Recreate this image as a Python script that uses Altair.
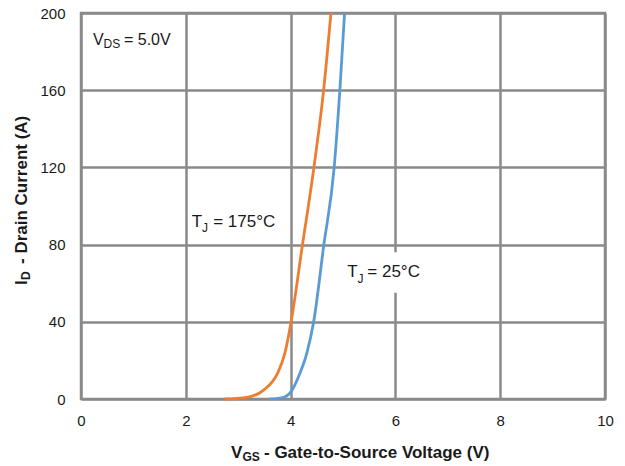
import altair as alt
import pandas as pd

# Transfer characteristics
vgs_175 = [2.74, 3.17, 3.49, 3.75, 3.89, 4.01, 4.22, 4.44, 4.63, 4.77]
id_175 = [0, 0.9, 4.7, 13.3, 23.6, 40, 78.7, 119, 160, 200]
vgs_25 = [3.60, 3.87, 3.99, 4.18, 4.31, 4.44, 4.63, 4.83, 4.94, 5.03]
id_25 = [0, 0.9, 3.1, 13.5, 23.8, 40, 79, 119.6, 160, 200]

x_ticks = [0, 2, 4, 6, 8, 10]
y_ticks = [0, 40, 80, 120, 160, 200]

ORANGE = "#ED7D31"
BLUE = "#5B9BD5"
GRID = "#8a8a8a"
FONT = "Liberation Sans"

curves = pd.concat([
    pd.DataFrame({"vgs": vgs_175, "id": id_175, "series": "175", "order": range(len(vgs_175))}),
    pd.DataFrame({"vgs": vgs_25, "id": id_25, "series": "25", "order": range(len(vgs_25))}),
])

x_scale = alt.Scale(domain=[0, 10], nice=False)
y_scale = alt.Scale(domain=[0, 200], nice=False)

x_axis = alt.Axis(values=x_ticks, title=None, grid=True, gridColor=GRID, gridWidth=2.5,
                  gridOpacity=1, domain=False, ticks=False, tickSize=0, labelPadding=14,
                  labelFlush=False, labelOverlap=False,
                  labelFont=FONT, labelFontSize=15, labelColor="#1a1a1a", format="d")
y_axis = alt.Axis(values=y_ticks, title=None, grid=True, gridColor=GRID, gridWidth=2.5,
                  gridOpacity=1, domain=False, ticks=False, tickSize=0, labelPadding=16,
                  labelFlush=False, labelOverlap=False,
                  labelFont=FONT, labelFontSize=15, labelColor="#1a1a1a", format="d")

lines = alt.Chart(curves).mark_line(strokeWidth=2.8, interpolate="monotone").encode(
    x=alt.X("vgs:Q", scale=x_scale, axis=x_axis),
    y=alt.Y("id:Q", scale=y_scale, axis=y_axis),
    color=alt.Color("series:N", scale=alt.Scale(domain=["175", "25"], range=[ORANGE, BLUE]), legend=None),
    order="order:Q",
)

# white box behind the 25°C label
box_df = pd.DataFrame({"x": [5.0], "x2": [6.55], "y": [55], "y2": [76]})
box = alt.Chart(box_df).mark_rect(color="white").encode(
    x=alt.X("x:Q", scale=x_scale), x2="x2", y=alt.Y("y:Q", scale=y_scale), y2="y2")

# annotations (data coordinates)
ann_main = pd.DataFrame({
    "x": [0.23, 0.82, 2.113, 2.523, 5.08, 5.464],
    "y": [183.4, 183.4, 89.2, 89.2, 63.0, 63.0],
    "t": ["V", "= 5.0V", "T", "= 175°C", "T", "= 25°C"],
    "s": [16, 16, 17, 17, 17, 17],
})
ann_sub = pd.DataFrame({
    "x": [0.43, 2.309, 5.277],
    "y": [181.9, 86.5, 60.2],
    "t": ["DS", "J", "J"],
})

txt_main = alt.Chart(ann_main).mark_text(align="left", baseline="alphabetic", font=FONT, color="#1a1a1a").encode(
    x=alt.X("x:Q", scale=x_scale), y=alt.Y("y:Q", scale=y_scale), text="t:N",
    size=alt.Size("s:Q", scale=None, legend=None))
txt_sub = alt.Chart(ann_sub).mark_text(align="left", baseline="alphabetic", font=FONT, fontSize=12, color="#1a1a1a").encode(
    x=alt.X("x:Q", scale=x_scale), y=alt.Y("y:Q", scale=y_scale), text="t:N")

# axis titles with subscripts (pixel positions relative to plot area)
xt1 = alt.Chart(pd.DataFrame({"t": ["V"]})).mark_text(align="left", baseline="alphabetic", font=FONT, fontSize=17, fontWeight="bold", color="#1a1a1a").encode(
    x=alt.value(150), y=alt.value(444.5), text="t:N")
xt2 = alt.Chart(pd.DataFrame({"t": ["GS"]})).mark_text(align="left", baseline="alphabetic", font=FONT, fontSize=12, fontWeight="bold", color="#1a1a1a").encode(
    x=alt.value(161.5), y=alt.value(447.5), text="t:N")
xt3 = alt.Chart(pd.DataFrame({"t": ["- Gate-to-Source Voltage (V)"]})).mark_text(align="left", baseline="alphabetic", font=FONT, fontSize=17, fontWeight="bold", color="#1a1a1a").encode(
    x=alt.value(183), y=alt.value(444.5), text="t:N")

yt1 = alt.Chart(pd.DataFrame({"t": ["I"]})).mark_text(align="left", baseline="alphabetic", angle=270, font=FONT, fontSize=17, fontWeight="bold", color="#1a1a1a").encode(
    x=alt.value(-54), y=alt.value(272), text="t:N")
yt2 = alt.Chart(pd.DataFrame({"t": ["D"]})).mark_text(align="left", baseline="alphabetic", angle=270, font=FONT, fontSize=12, fontWeight="bold", color="#1a1a1a").encode(
    x=alt.value(-51), y=alt.value(267), text="t:N")
yt3 = alt.Chart(pd.DataFrame({"t": ["- Drain Current (A)"]})).mark_text(align="left", baseline="alphabetic", angle=270, font=FONT, fontSize=17, fontWeight="bold", color="#1a1a1a").encode(
    x=alt.value(-54), y=alt.value(251), text="t:N")

chart = alt.layer(box, lines, txt_main, txt_sub, xt1, xt2, xt3, yt1, yt2, yt3).properties(
    width=524, height=386,
    autosize=alt.AutoSizeParams(type="none"),
    padding={"left": 81, "top": 13, "right": 20, "bottom": 67},
    background="white",
).configure_view(stroke=GRID, strokeWidth=2.5)

chart.save("out.html", embed_options={"renderer": "svg", "actions": False})
